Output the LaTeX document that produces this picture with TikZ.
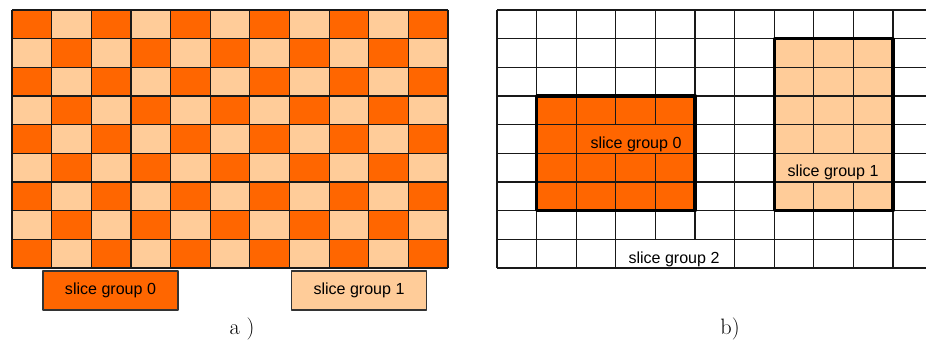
\documentclass[tikz,border=0pt]{standalone}
\usepackage{fontspec}
\newfontfamily\labelfont{Liberation Sans}
\definecolor{sgdark}{HTML}{FF6600}
\definecolor{sglight}{HTML}{FFCC99}
\tikzset{
  gridline/.style={line width=1pt, black!90},
  groupframe/.style={line width=2.8pt, black},
  legendbox/.style={draw=black!80, line width=1.1pt, minimum width=4.05cm,
    minimum height=1.17cm, font=\labelfont\fontsize{13.7}{16}\selectfont},
  grouptext/.style={inner xsep=0.3pt, inner ysep=0pt, text height=0.7cm,
    text depth=0.15cm, anchor=base, font=\labelfont\fontsize{13.7}{16}\selectfont},
  caption/.style={font=\fontsize{19}{22}\selectfont}
}

\begin{document}
\begin{tikzpicture}[x=0.03cm, y=-0.03cm, line join=round]
  \useasboundingbox (0,0) rectangle (926,345);

  \foreach \i in {0,...,10}
    \foreach \j in {0,...,8} {
      \pgfmathtruncatemacro{\k}{mod(\i+\j,2)}
      \ifnum\k=0 \def\cellcol{sgdark}\else \def\cellcol{sglight}\fi
      \fill[\cellcol] ({12+39.64*\i},{10+28.67*\j}) rectangle +(39.64,28.67);
    }
  \foreach \i in {0,...,11}
    \draw[gridline] ({12+39.64*\i},10) -- ({12+39.64*\i},268);
  \foreach \j in {0,...,9}
    \draw[gridline] (12,{10+28.67*\j}) -- (448,{10+28.67*\j});

  \node[legendbox, fill=sgdark] (sg0a) at (110.5,290.5) {slice group 0};
  \node[legendbox, fill=sglight] (sg1a) at (359,290.5) {slice group 1};
  \node[caption] (capa) at (242,329) {a )};

  \fill[sgdark] (536.6,96) rectangle (695,210.7);
  \fill[sglight] (774.2,38.67) rectangle (893,210.7);
  \foreach \i in {0,...,10}
    \draw[gridline] ({497+39.6*\i},10) -- ({497+39.6*\i},268);

  \node[grouptext, fill=sgdark] (sg0b) at (636,148.3) {slice group 0};
  \node[grouptext, fill=sglight] (sg1b) at (833,177) {slice group 1};
  \node[grouptext, fill=white] (sg2b) at (674,263) {slice group 2};

  \foreach \j in {0,...,9}
    \draw[gridline] (497,{10+28.67*\j}) -- (926,{10+28.67*\j});
  \draw[groupframe] (536.6,96) rectangle (695,210.7);
  \draw[groupframe] (774.2,38.67) rectangle (893,210.7);
  \node[caption] (capb) at (730,329) {b)};
\end{tikzpicture}
\end{document}
